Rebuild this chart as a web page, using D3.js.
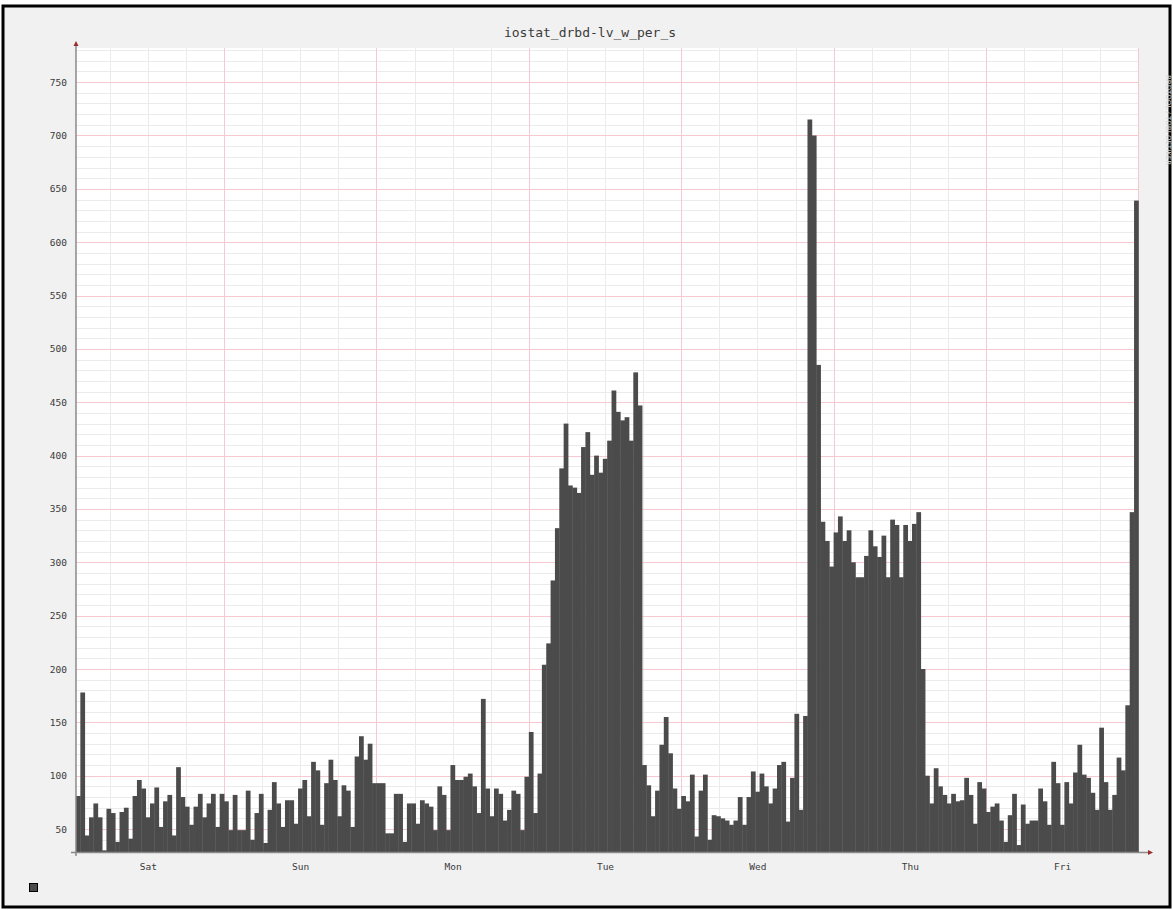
<!DOCTYPE html>
<html>
<head>
<meta charset="utf-8">
<script src="https://cdn.jsdelivr.net/npm/d3@7"></script>
<style>
  html, body { margin: 0; padding: 0; background: #ffffff; }
  svg { display: block; }
</style>
</head>
<body>
<svg id="chart" width="1173" height="910"></svg>
<script>
// ---------------- DATA ----------------
const chartTitle = "iostat_drbd-lv_w_per_s";
const dayLabels = ["Sat", "Sun", "Mon", "Tue", "Wed", "Thu", "Fri"];
const yTickValues = [50, 100, 150, 200, 250, 300, 350, 400, 450, 500, 550, 600, 650, 700, 750];

// write operations per second, consecutive samples
const satValues = [81, 178, 44, 61, 74, 61, 30, 69, 65, 38, 66, 70, 41, 81, 96, 88, 61, 74, 89, 52,
                   76, 82, 44, 108, 80, 71, 54, 71, 83, 61, 74, 83, 52, 83, 76];
const sunValues = [49, 82, 49, 49, 86, 40, 65, 83, 37, 68, 94, 74, 52, 77, 77, 55, 88, 96, 62, 113,
                   105, 54, 93, 115, 96, 62, 91, 86, 52, 118, 137, 115, 130, 93, 93];
const monValues = [93, 46, 46, 83, 83, 38, 74, 74, 55, 77, 74, 71, 49, 90, 82, 49, 110, 96, 96, 99,
                   102, 90, 65, 172, 88, 62, 88, 83, 58, 68, 86, 83, 49, 99, 141];
const tueValues = [65, 102, 204, 224, 283, 332, 388, 430, 372, 370, 365, 408, 422, 382, 400, 384, 397,
                   414, 461, 441, 433, 436, 414, 478, 447, 110, 91, 62, 86, 129, 155, 121, 88, 69, 81, 76];
const wedValues = [101, 43, 86, 101, 40, 63, 62, 60, 58, 54, 58, 80, 54, 80, 104, 85, 102, 90, 74, 88, 110,
                   113, 57, 98, 158, 68, 156];
const wedThuValues = [715, 700, 485, 338, 320, 296, 328, 343, 320, 330, 300, 286, 286, 306, 330,
                      315, 305, 325, 286, 340, 335, 286, 335, 320, 336, 347, 200, 100];
const thuFriValues = [74, 107, 90, 82, 74, 83, 76, 77, 98, 82, 55, 94, 88, 66, 71, 74, 58, 38, 63, 83,
                      35, 73, 55, 58, 58, 88, 76, 54, 113, 93, 54, 94, 74];
const friValues = [103, 129, 101, 98, 84, 68, 145, 94, 68, 82, 117, 105, 166, 347, 639];

const seriesValues = [].concat(satValues, sunValues, monValues, tueValues, wedValues,
                               wedThuValues, thuFriValues, friValues);

// time span (hours from Saturday 00:00)
const weekHours = 168;
const startHour = 0.69;
const yMin = 28.5, yMax = 782;

// ---------------- LAYOUT ----------------
const W = 1173, H = 910;
const plot = { left: 71.6, right: 1138.4, top: 48, bottom: 852 };
const colors = {
  canvas: "#f1f1f1",
  plotBg: "#ffffff",
  minorGrid: "#ebebeb",
  majorGrid: "#f6c9d1",
  bar: "#4b4b4b",
  text: "#3a3a3a",
  axis: "#8a8a8a",
  arrow: "#9b2a2a"
};

const svg = d3.select("#chart");

// canvas + frame
svg.append("rect").attr("x", 0).attr("y", 0).attr("width", W).attr("height", H).attr("fill", "#ffffff");
svg.append("rect").attr("x", 3).attr("y", 6).attr("width", W - 6).attr("height", H - 9)
  .attr("fill", colors.canvas).attr("stroke", "#000").attr("stroke-width", 3);

const x = d3.scaleLinear().domain([0, weekHours]).range([plot.left, plot.right]);
const y = d3.scaleLinear().domain([yMin, yMax]).range([plot.bottom, plot.top]);

const x0 = x(startHour);

// plot background
svg.append("rect").attr("x", x0).attr("y", plot.top)
  .attr("width", x(weekHours) - x0).attr("height", plot.bottom - plot.top)
  .attr("fill", colors.plotBg);

// grid
const gGrid = svg.append("g");
const minorY = d3.range(30, yMax, 10).filter(v => v % 50 !== 0);
gGrid.selectAll("line.my").data(minorY).join("line")
  .attr("x1", x0).attr("x2", x(weekHours))
  .attr("y1", d => Math.round(y(d)) + 0.5).attr("y2", d => Math.round(y(d)) + 0.5)
  .attr("stroke", colors.minorGrid).attr("stroke-width", 1);
const minorX = d3.range(6, weekHours, 6).filter(h => h % 24 !== 0);
gGrid.selectAll("line.mx").data(minorX).join("line")
  .attr("x1", d => Math.round(x(d)) + 0.5).attr("x2", d => Math.round(x(d)) + 0.5)
  .attr("y1", plot.top).attr("y2", plot.bottom)
  .attr("stroke", colors.minorGrid).attr("stroke-width", 1);
gGrid.selectAll("line.My").data(yTickValues).join("line")
  .attr("x1", x0).attr("x2", x(weekHours))
  .attr("y1", d => Math.round(y(d)) + 0.5).attr("y2", d => Math.round(y(d)) + 0.5)
  .attr("stroke", colors.majorGrid).attr("stroke-width", 1);
const majorX = d3.range(24, weekHours + 1, 24);
gGrid.selectAll("line.Mx").data(majorX).join("line")
  .attr("x1", d => Math.round(x(d)) + 0.5).attr("x2", d => Math.round(x(d)) + 0.5)
  .attr("y1", plot.top).attr("y2", plot.bottom)
  .attr("stroke", colors.majorGrid).attr("stroke-width", 1);

// bars (step area)
const step = (weekHours - startHour) / seriesValues.length;
svg.append("g").selectAll("rect").data(seriesValues).join("rect")
  .attr("x", (d, i) => x(startHour + i * step))
  .attr("width", (d, i) => x(startHour + (i + 1) * step) - x(startHour + i * step) + 0.4)
  .attr("y", d => y(d))
  .attr("height", d => plot.bottom - y(d))
  .attr("fill", colors.bar);

// axes lines
svg.append("line").attr("x1", x0 - 5).attr("x2", 1150).attr("y1", plot.bottom + 0.5).attr("y2", plot.bottom + 0.5)
  .attr("stroke", colors.axis).attr("stroke-width", 1.5);
svg.append("line").attr("x1", x0).attr("x2", x0).attr("y1", plot.bottom + 4).attr("y2", 43)
  .attr("stroke", colors.axis).attr("stroke-width", 1.5);
svg.append("path").attr("d", `M${x0 - 2.5},46 L${x0 + 2.5},46 L${x0},41 Z`).attr("fill", colors.arrow);
svg.append("path").attr("d", `M1148,${plot.bottom - 2} L1148,${plot.bottom + 3} L1153,${plot.bottom + 0.5} Z`).attr("fill", colors.arrow);

// y labels
const yAxis = d3.axisLeft(y).tickValues(yTickValues).tickSize(0).tickPadding(9);
const gy = svg.append("g").attr("transform", `translate(${x0},0)`).call(yAxis);
gy.select(".domain").remove();
gy.selectAll("text").attr("font-family", "'DejaVu Sans Mono', monospace").attr("font-size", 9.5)
  .attr("fill", colors.text);

// x labels (centered at noon of each day)
const xAxis = d3.axisBottom(x).tickValues(dayLabels.map((d, i) => i * 24 + 12))
  .tickFormat((d, i) => dayLabels[i]).tickSize(0).tickPadding(11);
const gx = svg.append("g").attr("transform", `translate(0,${plot.bottom})`).call(xAxis);
gx.select(".domain").remove();
gx.selectAll("text").attr("font-family", "'DejaVu Sans Mono', monospace").attr("font-size", 9.5)
  .attr("fill", colors.text);

// title
svg.append("text").attr("x", 590).attr("y", 37).attr("text-anchor", "middle")
  .attr("font-family", "'DejaVu Sans Mono', monospace").attr("font-size", 13)
  .attr("fill", colors.text).text(chartTitle);

// legend swatch
svg.append("rect").attr("x", 29.5).attr("y", 883.5).attr("width", 8).attr("height", 8)
  .attr("fill", colors.bar).attr("stroke", "#000").attr("stroke-width", 1);

// rrdtool watermark
svg.append("text").attr("transform", "translate(1166,120) rotate(90)").attr("text-anchor", "middle")
  .attr("font-family", "'DejaVu Sans', sans-serif").attr("font-size", 7)
  .attr("fill", "#d4d4d4").text("RRDTOOL / TOBI OETIKER");
</script>
</body>
</html>
